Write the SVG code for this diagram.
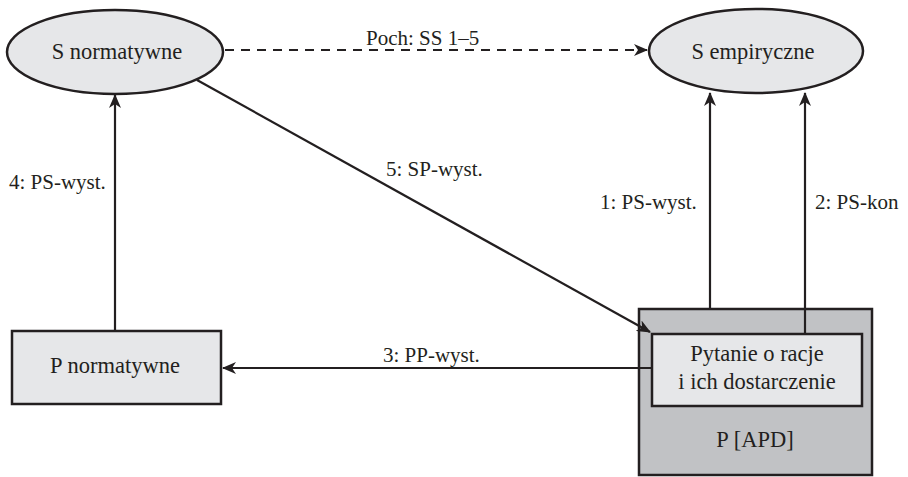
<svg xmlns="http://www.w3.org/2000/svg" width="908" height="477" viewBox="0 0 908 477">
<style>
.node{fill:#e6e7e9;stroke:#231f20;stroke-width:2.5}
.outer{fill:#c1c2c5;stroke:#231f20;stroke-width:2.5}
.edge{fill:none;stroke:#231f20;stroke-width:2.2}
.dash{stroke-dasharray:9 7}
.nt{font-family:"Liberation Serif","Times New Roman",serif;font-size:22.5px;fill:#231f20;text-anchor:middle}
.lt{font-family:"Liberation Serif","Times New Roman",serif;font-size:21px;fill:#231f20}
</style>
<defs>
<marker id="ah" viewBox="0 0 14 12" refX="13" refY="6" markerWidth="14" markerHeight="12" markerUnits="userSpaceOnUse" orient="auto">
<path d="M0,0 L14,6 L0,12 L4,6 Z" fill="#231f20"/>
</marker>
</defs>
<rect width="908" height="477" fill="#ffffff"/>
<g id="S_normatywne">
<ellipse class="node" cx="115" cy="52" rx="108" ry="42"/>
<text class="nt" x="117" y="59">S normatywne</text>
</g>
<g id="S_empiryczne">
<ellipse class="node" cx="756" cy="51" rx="107" ry="42"/>
<text class="nt" x="753" y="59">S empiryczne</text>
</g>
<g id="P_normatywne">
<rect class="node" x="12" y="331" width="209" height="73"/>
<text class="nt" x="115" y="373">P normatywne</text>
</g>
<g id="P_APD">
<rect class="outer" x="639" y="309" width="233" height="166"/>
<text class="nt" x="755" y="447">P [APD]</text>
</g>
<g id="Pytanie">
<rect class="node" x="652" y="334" width="210" height="72"/>
<text class="nt" x="757" y="361">Pytanie o racje</text>
<text class="nt" x="757" y="389">i ich dostarczenie</text>
</g>
<g id="connectors">
<line class="edge dash" x1="225" y1="50" x2="647" y2="50" marker-end="url(#ah)"/>
<line class="edge" x1="710" y1="309" x2="710" y2="93" marker-end="url(#ah)"/>
<line class="edge" x1="805" y1="334" x2="805" y2="93" marker-end="url(#ah)"/>
<line class="edge" x1="197" y1="80" x2="650" y2="332" marker-end="url(#ah)"/>
<line class="edge" x1="652" y1="368" x2="223" y2="368" marker-end="url(#ah)"/>
<line class="edge" x1="115" y1="331" x2="115" y2="95" marker-end="url(#ah)"/>
<text class="lt" x="366" y="45">Poch: SS 1–5</text>
<text class="lt" x="386" y="176">5: SP-wyst.</text>
<text class="lt" x="9" y="189">4: PS-wyst.</text>
<text class="lt" x="600" y="209">1: PS-wyst.</text>
<text class="lt" x="815" y="209">2: PS-kon</text>
<text class="lt" x="383" y="362">3: PP-wyst.</text>
</g>
</svg>
